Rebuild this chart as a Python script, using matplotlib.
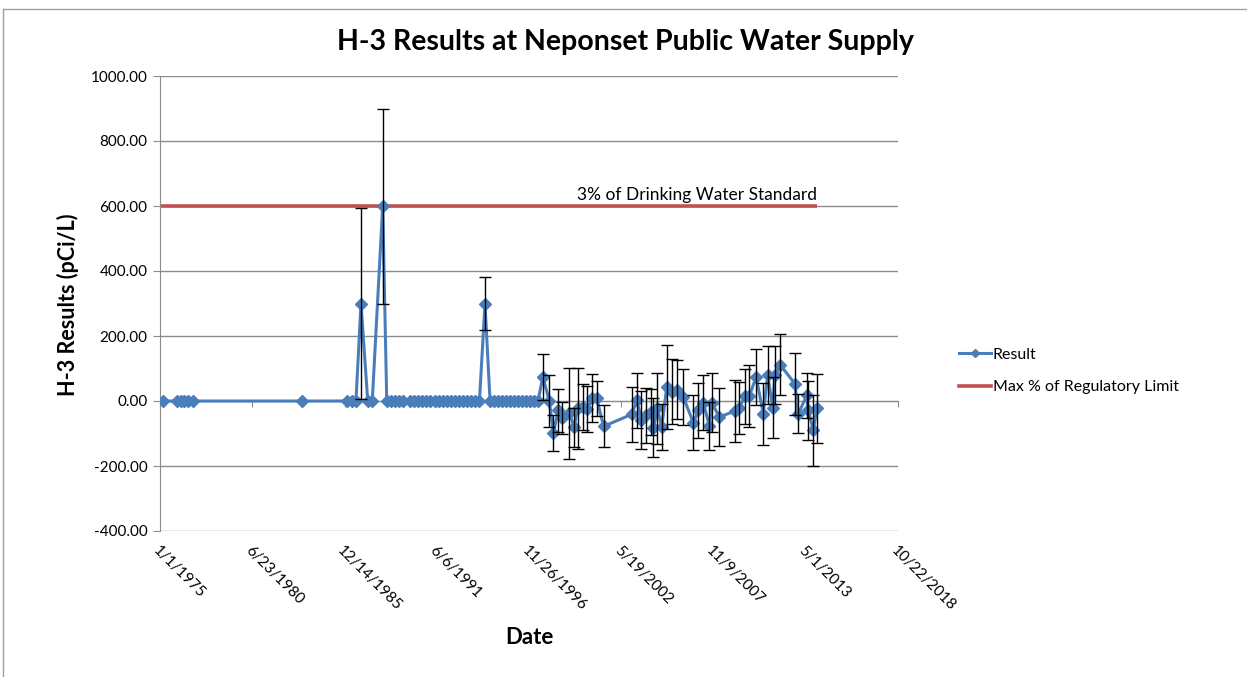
import matplotlib
matplotlib.use("Agg")
import matplotlib.pyplot as plt
import matplotlib.dates as mdates
from matplotlib.lines import Line2D
import numpy as np
from datetime import datetime, timedelta

plt.rcParams["font.family"] = ["Lato", "DejaVu Sans"]

TITLE = "H-3 Results at Neponset Public Water Supply"
YLABEL = "H-3 Results (pCi/L)"
XLABEL = "Date"
NOTE = "3% of Drinking Water Standard"
SERIES = ["Result", "Max % of Regulatory Limit"]

# sample dates (decimal years), results and +/- uncertainty
years = [1975.16, 1975.98, 1976.22, 1976.45, 1976.69, 1976.94, 1983.40,
         1986.12, 1986.38, 1986.63, 1986.93, 1987.33, 1987.60, 1988.22,
         1988.46, 1988.69, 1988.93, 1989.17, 1989.41, 1989.84, 1990.08,
         1990.31, 1990.55, 1990.79, 1991.03, 1991.32, 1991.56, 1991.80,
         1992.04, 1992.27, 1992.51, 1992.75, 1992.99, 1993.22, 1993.46,
         1993.70, 1993.96, 1994.29, 1994.59, 1994.83, 1995.06, 1995.30,
         1995.54, 1995.78, 1996.01, 1996.25, 1996.49, 1996.72, 1996.96,
         1997.20, 1997.44,
         1997.72, 1998.11, 1998.35, 1998.64, 1998.88, 1999.30, 1999.59,
         1999.79, 2000.09, 2000.36, 2000.66, 2000.92, 2001.33, 2003.00,
         2003.30, 2003.58, 2003.82, 2004.12, 2004.29, 2004.53, 2004.78,
         2005.08, 2005.36, 2005.66, 2006.06, 2006.66, 2006.95, 2007.25,
         2007.61, 2007.75, 2008.20, 2009.13, 2009.39, 2009.72, 2009.98,
         2010.38, 2010.81, 2011.07, 2011.37, 2011.51, 2011.80, 2012.69,
         2012.89, 2013.39, 2013.48, 2013.78, 2013.98]

results = [0, 0, 0, 0, 0, 0, 0,
           0, 0, 0, 300, 0, 0, 600,
           0, 0, 0, 0, 0, 0, 0,
           0, 0, 0, 0, 0, 0, 0,
           0, 0, 0, 0, 0, 0, 0,
           0, 0, 300, 0, 0, 0, 0,
           0, 0, 0, 0, 0, 0, 0,
           0, 0,
           74, 0, -98, -29, -53, -38, -80,
           -22, -19, -25, 9, 8, -78, -41,
           2, -59, -44, -34, -82, -23, -80,
           43, 28, 35, 12, -67, -29, -5,
           -77, -5, -49, -31, -20, 15, 15,
           74, -39, 80, -20, 80, 112, 53,
           -39, 17, -29, -90, -23]

errors = [0, 0, 0, 0, 0, 0, 0,
          0, 0, 0, 295, 0, 0, 300,
          0, 0, 0, 0, 0, 0, 0,
          0, 0, 0, 0, 0, 0, 0,
          0, 0, 0, 0, 0, 0, 0,
          0, 0, 82, 0, 0, 0, 0,
          0, 0, 0, 0, 0, 0, 0,
          0, 0,
          70, 80, 55, 65, 50, 140, 60,
          125, 70, 70, 75, 55, 65, 85,
          85, 90, 85, 70, 90, 110, 70,
          130, 100, 90, 85, 85, 85, 85,
          75, 90, 90, 95, 80, 85, 95,
          85, 95, 90, 95, 90, 95, 95,
          60, 70, 90, 110, 105]

limit = 600
tick_labels = ["1/1/1975", "6/23/1980", "12/14/1985", "6/6/1991", "11/26/1996",
               "5/19/2002", "11/9/2007", "5/1/2013", "10/22/2018"]


def to_date(y):
    yi = int(y)
    return datetime(yi, 1, 1) + timedelta(days=(y - yi) * 365.25)


dates = np.array([mdates.date2num(to_date(y)) for y in years])
res = np.array(results, dtype=float)
err = np.array(errors, dtype=float)
ticks = [mdates.date2num(datetime.strptime(t, "%m/%d/%Y")) for t in tick_labels]

BLUE = "#4A7EBB"
RED = "#C0504D"
GRID = "#8C8C8C"

fig = plt.figure(figsize=(12.47, 6.77), dpi=100)
ax = fig.add_axes([160 / 1247, 1 - 531 / 677, 738 / 1247, 455 / 677])

# limit line across sampled period
ax.plot([dates[0] - 60, dates[-1]], [limit, limit], color=RED, lw=2.6,
        solid_capstyle="butt", zorder=2)
ax.plot(dates, res, color=BLUE, lw=2.2, marker="D", ms=5.8, zorder=3)
m = err > 0
ax.errorbar(dates[m], res[m], yerr=err[m], fmt="none", ecolor="black",
            elinewidth=1.0, capsize=4.5, capthick=1.0, zorder=4)

ax.text(dates[-1], limit + 8, NOTE, ha="right", va="bottom", fontsize=12.5)

ax.set_xlim(ticks[0], ticks[-1])
ax.set_ylim(-400, 1000)
ax.set_yticks(np.arange(-400, 1001, 200))
ax.set_yticklabels(["%.2f" % v for v in np.arange(-400, 1001, 200)], fontsize=11)
ax.yaxis.grid(True, color=GRID, lw=1.0)
ax.set_axisbelow(True)

for s in ["top", "right"]:
    ax.spines[s].set_visible(False)
ax.spines["left"].set_color(GRID)
ax.spines["bottom"].set_color(GRID)
ax.spines["bottom"].set_position(("data", 0))
ax.set_xticks(ticks)
ax.tick_params(axis="x", direction="out", length=4, color=GRID, labelbottom=False)
ax.tick_params(axis="y", direction="out", length=5, color=GRID, pad=4)

sec = ax.secondary_xaxis(0.0)
sec.set_xticks(ticks)
sec.set_xticklabels(tick_labels, rotation=-45, ha="left", va="top",
                    rotation_mode="anchor", fontsize=11)
sec.tick_params(length=0, pad=9)
sec.spines["bottom"].set_visible(False)

fig.text(625 / 1247, 1 - 42 / 677, TITLE, ha="center", va="center",
         fontsize=20.5, fontweight="bold")
fig.text(68 / 1247, 1 - 305 / 677, YLABEL, ha="center", va="center",
         rotation=90, fontsize=15.5, fontweight="bold")
fig.text(529 / 1247, 1 - 637 / 677, XLABEL, ha="center", va="center",
         fontsize=16, fontweight="bold")

handles = [Line2D([], [], color=BLUE, lw=2.2, marker="D", ms=4.5),
           Line2D([], [], color=RED, lw=2.6)]
fig.legend(handles, SERIES, loc="center left",
           bbox_to_anchor=(945 / 1247, 1 - 371 / 677), frameon=False,
           fontsize=11.5, handlelength=2.0, handletextpad=0.1, labelspacing=1.15)

# chart frame / sheet edges
fig.add_artist(Line2D([3 / 1247, 3 / 1247], [0, 1 - 9 / 677],
                      transform=fig.transFigure, color="#A0A0A0", lw=1))
fig.add_artist(Line2D([3 / 1247, 1], [1 - 9 / 677, 1 - 9 / 677],
                      transform=fig.transFigure, color="#A0A0A0", lw=1))

fig.savefig("out.png", dpi=100)
